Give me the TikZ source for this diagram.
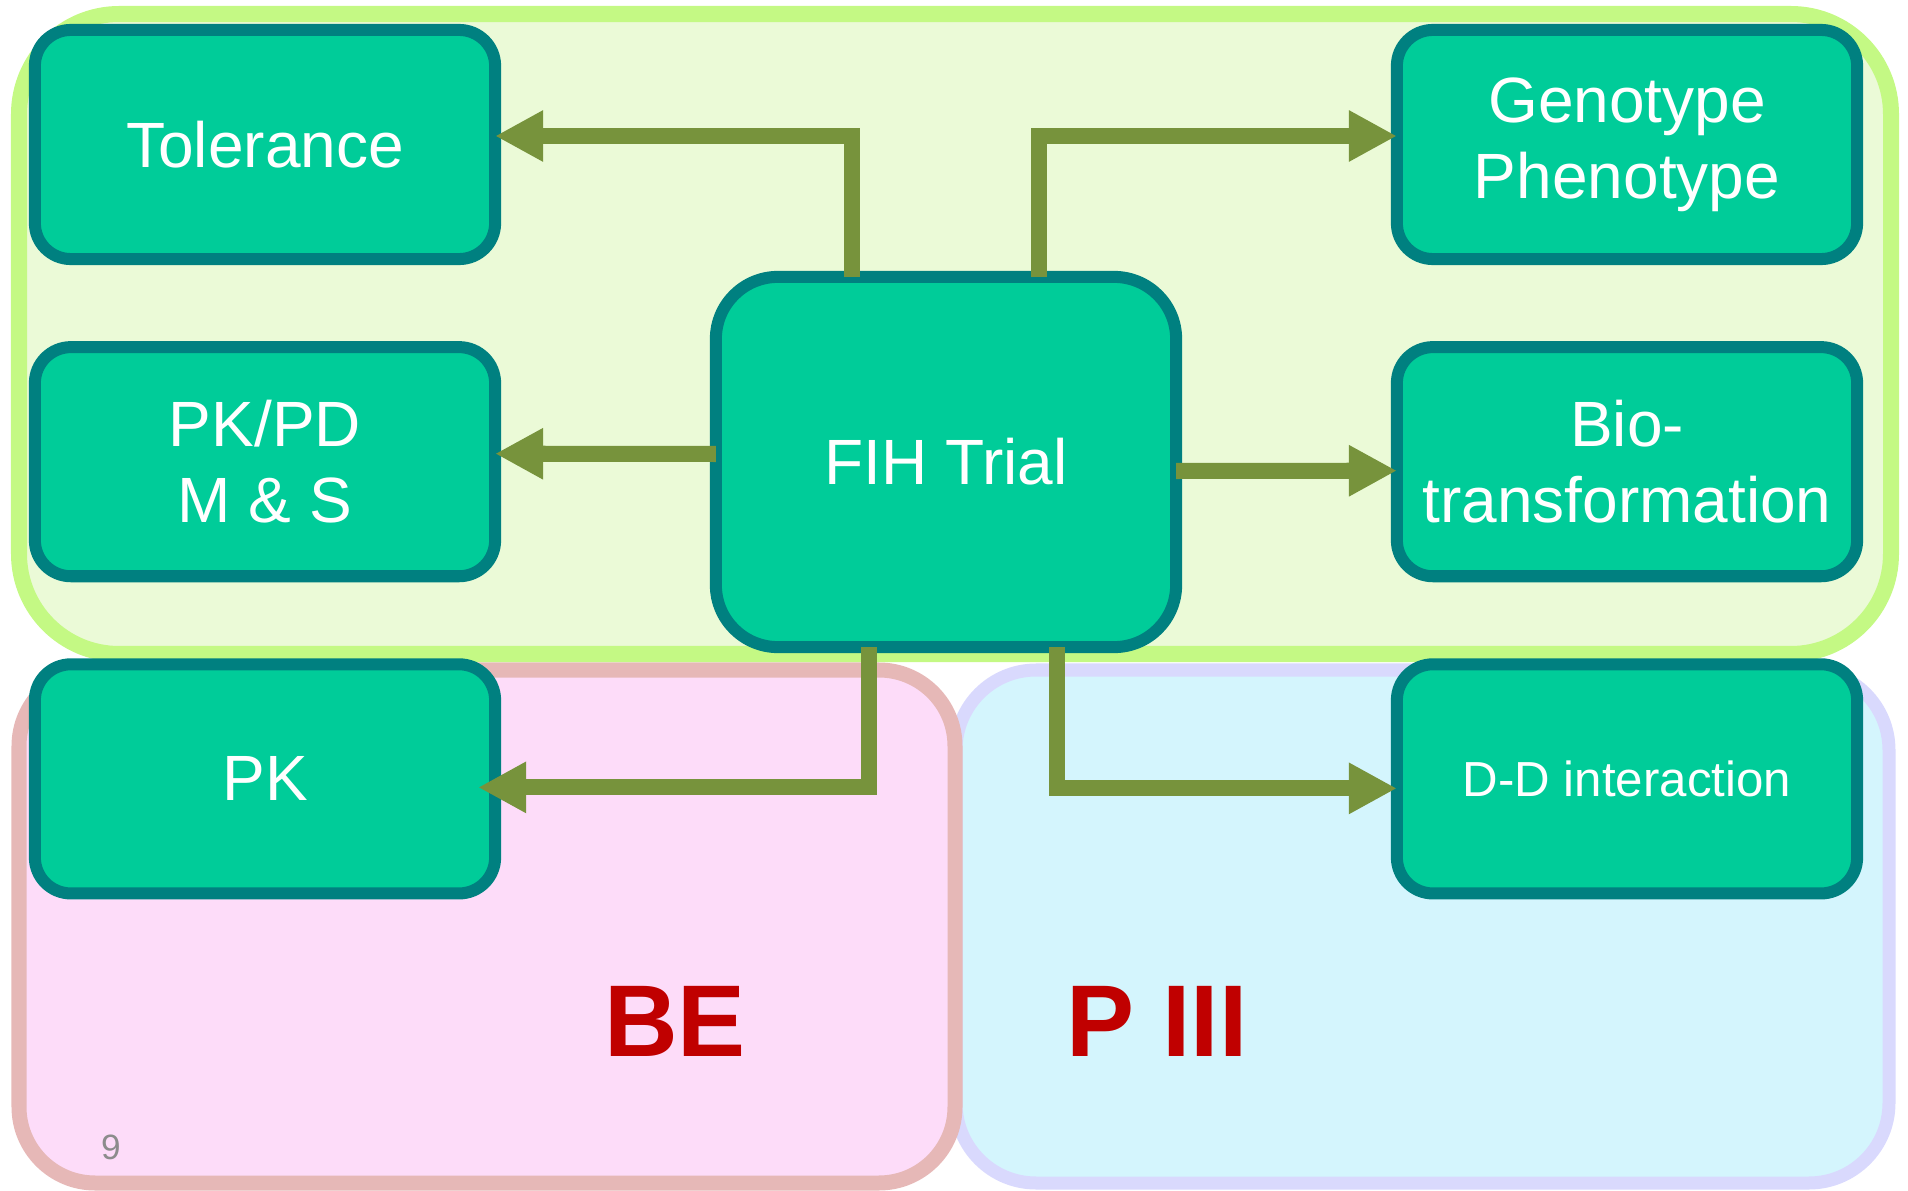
\documentclass[tikz,border=0pt]{standalone}
\usepackage{fontspec}
\setmainfont{Liberation Sans}
\usepackage{tikz}
\usetikzlibrary{positioning,arrows.meta,calc}

\definecolor{boxfill}{HTML}{00CC99}
\definecolor{boxline}{HTML}{008080}
\definecolor{flowgreen}{HTML}{77933C}
\definecolor{fihzone}{HTML}{EBFAD7}
\definecolor{fihzoneline}{HTML}{C4F984}
\definecolor{bezone}{HTML}{FDDCF9}
\definecolor{bezoneline}{HTML}{E6B8B7}
\definecolor{pzone}{HTML}{D4F5FD}
\definecolor{pzoneline}{HTML}{D9D9FD}
\definecolor{phasered}{HTML}{C00000}
\definecolor{pagegray}{HTML}{8C8C8C}

\begin{document}
\begin{tikzpicture}[x=0.01cm, y=-0.01cm,
    box/.style = {shape=rectangle, rounded corners=0.36cm,
      draw=boxline, fill=boxfill, line width=0.12cm, outer sep=0pt,
      minimum width=4.6cm, minimum height=2.29cm, align=center,
      text=white, font=\fontsize{18.2}{21.6}\selectfont},
    flow/.style = {draw=flowgreen, line width=0.16cm,
      -{Triangle[length=0.48cm,width=0.48cm]}},
    phase/.style = {text=phasered, font=\bfseries\fontsize{29}{34}\selectfont}]
    \useasboundingbox (0,0) rectangle (1908,1191);
    % coloured areas
    \draw[draw=pzoneline, fill=pzone, line width=0.13cm, rounded corners=0.8cm]
        (956,670) rectangle (1889,1183);
    \draw[draw=bezoneline, fill=bezone, line width=0.15cm, rounded corners=0.76cm]
        (19,670) rectangle (955,1183);
    \draw[draw=fihzoneline, fill=fihzone, line width=0.16cm, rounded corners=1cm]
        (19,14) rectangle (1891,654);

    \node[box, minimum height=3.7cm, rounded corners=0.62cm] (fih) at (946,462) {FIH Trial};
    \node[box] (tol) at (265,144.5) {Tolerance};
    \node[box, below=0.88cm of tol] (pkpd) {PK/PD\\M \& S};
    \node[box, below=0.88cm of pkpd] (pk) {PK};
    \node[box] (geno) at (1627,144.5) {Genotype\\Phenotype};
    \node[box, below=0.88cm of geno] (bio) {Bio-\\transformation};
    \node[box, below=0.88cm of bio, font=\fontsize{14}{17}\selectfont] (ddi) {D-D interaction};

    \draw[flow] ($(fih.north)+(-94,0)$) |- ($(tol.east)+(0,-8.5)$);
    \draw[flow] ($(fih.north)+(93,0)$) |- ($(geno.west)+(0,-8.5)$);
    \draw[flow] ($(fih.west)+(0,-8)$) -- ($(pkpd.east)+(0,-8)$);
    \draw[flow] ($(fih.east)+(0,9)$) -- ($(bio.west)+(0,9)$);
    \draw[flow, shorten >=-0.17cm] ($(fih.south)+(-77,0)$) |- ($(pk.east)+(0,8.5)$);
    \draw[flow] ($(fih.south)+(111,0)$) |- ($(ddi.west)+(0,9.5)$);

    \node[phase] (be) at (675,1021) {BE};
    \node[phase] (p3) at (1157,1021) {P III};
    \node[text=pagegray, font=\fontsize{10}{12}\selectfont] (pagenum) at (111,1147) {9};
\end{tikzpicture}
\end{document}
